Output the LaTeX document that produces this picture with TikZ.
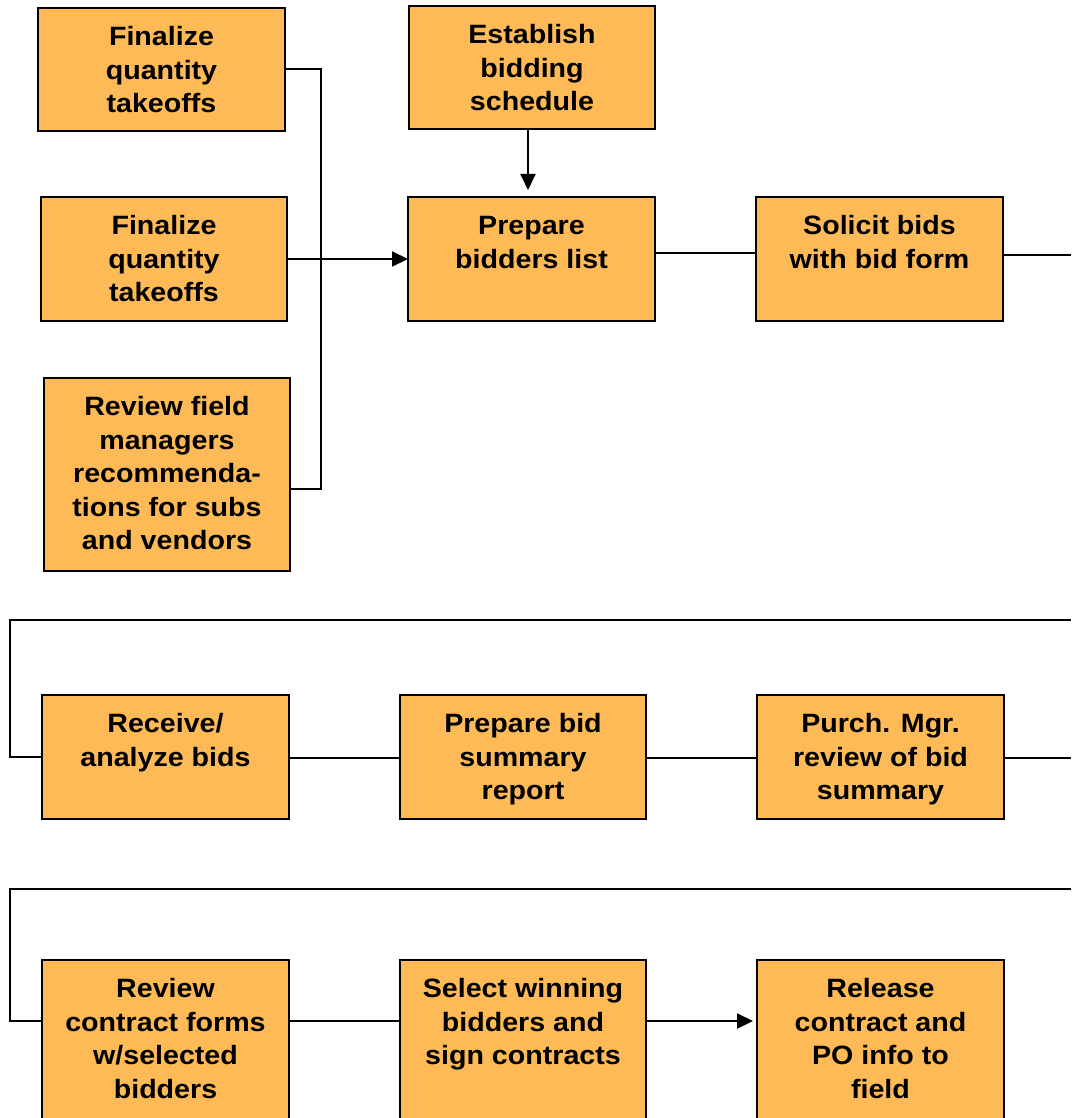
\documentclass[tikz,border=0pt]{standalone}
\usepackage{fontspec}
\setmainfont{Liberation Sans}[FakeStretch=1.08]
\usetikzlibrary{arrows.meta}
\definecolor{boxfill}{RGB}{254,186,86}
\begin{document}
\begin{tikzpicture}[x=1pt,y=-1pt,
  stepbox/.style={draw=black, line width=2pt, fill=boxfill, rectangle,
    inner sep=0pt, outer sep=0pt, minimum width=246pt},
  label/.style={anchor=north, inner sep=0pt, align=center,
    font=\fontsize{26.5}{33.5}\selectfont\bfseries},
  link/.style={draw=black, line width=2pt},
  arr/.style={link, -{Triangle[length=16pt,width=15pt]}}]
\useasboundingbox (0,0) rectangle (1071,1118);
\clip (0,0) rectangle (1071,1118);

% first row
\node[stepbox, minimum width=247pt, minimum height=123pt] (b1) at (161.5,69.5) {};
\node[stepbox, minimum height=123pt] (b2) at (532,67.5) {};
\node[stepbox, minimum height=124pt] (b3) at (164,259) {};
\node[stepbox, minimum width=247pt, minimum height=124pt] (b4) at (531.5,259) {};
\node[stepbox, minimum width=247pt, minimum height=124pt] (b5) at (879.5,259) {};
\node[stepbox, minimum height=193pt] (b6) at (167,474.5) {};

% second row
\node[stepbox, minimum width=247pt, minimum height=124pt] (b7) at (165.5,757) {};
\node[stepbox, minimum height=124pt] (b8) at (523,757) {};
\node[stepbox, minimum width=247pt, minimum height=124pt] (b9) at (880.5,757) {};

% third row (runs past the lower edge)
\node[stepbox, minimum width=247pt, minimum height=170pt] (b10) at (165.5,1045) {};
\node[stepbox, minimum height=170pt] (b11) at (523,1045) {};
\node[stepbox, minimum width=247pt, minimum height=170pt] (b12) at (880.5,1045) {};

% box texts, aligned to the top of each box
\foreach \b/\t in {
  b1/{\strut Finalize\\quantity\\takeoffs},
  b2/{\strut Establish\\bidding\\schedule},
  b3/{\strut Finalize\\quantity\\takeoffs},
  b4/{\strut Prepare\\bidders list},
  b5/{\strut Solicit bids\\with bid form},
  b6/{\strut Review field\\managers\\recommenda-\\tions for subs\\and vendors},
  b7/{\strut Receive/\\analyze bids},
  b8/{\strut Prepare bid\\summary\\report},
  b9/{\strut Purch. Mgr.\\review of bid\\summary},
  b10/{\strut Review\\contract forms\\w/selected\\bidders},
  b11/{\strut Select winning\\bidders and\\sign contracts},
  b12/{\strut Release\\contract and\\PO info to\\field}}
  \node[label] (t\b) at ([yshift=-14pt]\b.north) {\t};

% helper points
\coordinate (bend) at (321,0);
\coordinate (edge) at (1071,0);
\coordinate (left) at (10,0);
\coordinate (r1) at (0,253);
\coordinate (r1b) at (0,255);
\coordinate (w2) at (0,620);
\coordinate (r2) at (0,758);
\coordinate (w3) at (0,889);
\coordinate (r3) at (0,1021);
\coordinate (fb) at (0,489);

% inputs to the bidders list
\draw[link] (b1.east) -- (b1.east -| bend) |- (b6.east |- fb);
\draw[arr] (b3.east) -- (b4.west);
\draw[arr] ([xshift=-4pt]b2.south) -- ([xshift=-3.5pt,yshift=7pt]b4.north);

% first row flow
\draw[link] (b4.east |- r1) -- (b5.west |- r1);
\draw[link] (b5.east |- r1b) -- (edge |- r1b);

% second row flow
\draw[link] (edge |- w2) -- (left |- w2) |- (b7.west);
\draw[link] (b7.east |- r2) -- (b8.west |- r2);
\draw[link] (b8.east |- r2) -- (b9.west |- r2);
\draw[link] (b9.east |- r2) -- (edge |- r2);

% third row flow
\draw[link] (edge |- w3) -- (left |- w3) |- (b10.west |- r3);
\draw[link] (b10.east |- r3) -- (b11.west |- r3);
\draw[arr] (b11.east |- r3) -- ([xshift=-4pt]b12.west |- r3);
\end{tikzpicture}
\end{document}
